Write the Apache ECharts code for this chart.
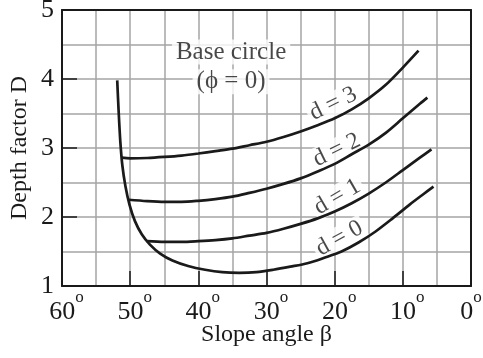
<!DOCTYPE html>
<html>
<head>
<meta charset="utf-8">
<script src="https://cdn.jsdelivr.net/npm/echarts@6/dist/echarts.min.js"></script>
<style>
html, body { margin: 0; padding: 0; background: #fff; }
#chart { width: 483px; height: 358px; }
</style>
</head>
<body>
<div id="chart"></div>
<script>
// curves: [slope angle (deg), depth factor D]
// d = 0 also carries the base-circle branch that drops from D = 4
const d0 = [[51.9, 3.98], [51.7, 3.55], [51.45, 3.1], [51.15, 2.75], [50.7, 2.45], [50.1, 2.18], [49.3, 1.94],
    [48.3, 1.75], [47.1, 1.6], [45.6, 1.47], [43.8, 1.37], [41.5, 1.29], [39, 1.235], [36.5, 1.2], [34, 1.19],
    [31.5, 1.2], [29, 1.235], [26.5, 1.28], [24, 1.33], [21.5, 1.41], [19, 1.5], [16.5, 1.63], [14, 1.79],
    [11.5, 1.98], [9, 2.18], [7, 2.33], [5.5, 2.44]]
const d1 = [[47.56, 1.65], [45, 1.64], [42.5, 1.64], [40, 1.65], [37.5, 1.665], [35, 1.69], [32.5, 1.73],
    [30, 1.77], [27.5, 1.83], [25, 1.9], [22.5, 1.98], [20, 2.08], [17.5, 2.2], [15, 2.34], [12.5, 2.5],
    [10, 2.68], [7.5, 2.86], [5.8, 2.98]]
const d2 = [[50.26, 2.25], [47.5, 2.23], [45, 2.22], [42.5, 2.22], [40, 2.235], [37.5, 2.26], [35, 2.295],
    [32.5, 2.35], [30, 2.41], [27.5, 2.48], [25, 2.56], [22.5, 2.66], [20, 2.77], [17.5, 2.91], [15, 3.05],
    [12.5, 3.22], [10, 3.43], [7.5, 3.64], [6.4, 3.73]]
const d3 = [[51.25, 2.86], [50, 2.85], [47.5, 2.855], [45, 2.87], [42.5, 2.89], [40, 2.92], [37.5, 2.955],
    [35, 2.99], [32.5, 3.04], [30, 3.09], [27.5, 3.16], [25, 3.24], [22.5, 3.33], [20, 3.43], [17.5, 3.56],
    [15, 3.72], [12.5, 3.915], [10, 4.165], [7.7, 4.41]]

const curveNames = ['d = 0', 'd = 1', 'd = 2', 'd = 3']
const curveData = [d0, d1, d2, d3]
// where each curve name is written, in data units, and its slant
const curveLabelAt = [[19.3, 1.69], [19.6, 2.29], [19.7, 2.97], [20.2, 3.64]]
const curveLabelTilt = [29, 30, 26, 26]

const noteText = ['Base circle', '(ϕ = 0)']
const noteAt = [[35.2, 4.39], [35.2, 3.96]]

const xTicks = [60, 50, 40, 30, 20, 10, 0]
const yTicks = [1, 2, 3, 4, 5]

const serif = 'Liberation Serif'
const ink = '#1a1a1a'
const gridGray = '#a5a5a5'
const clear = 'rgba(0,0,0,0)'

let chart = echarts.init(document.getElementById('chart'))

let series = curveData.map((d, i) => ({
    name: curveNames[i],
    type: 'line',
    data: d,
    smooth: 0.3,
    showSymbol: false,
    silent: true,
    lineStyle: { color: ink, width: 2.7 },
    z: 5
}))

// curve names, written on a white patch like the printed figure
series.push({
    type: 'scatter',
    symbolSize: 1,
    itemStyle: { color: clear },
    silent: true,
    z: 4,
    data: curveLabelAt.map((p, i) => ({
        value: p,
        label: {
            show: true,
            position: 'inside',
            rotate: curveLabelTilt[i],
            formatter: curveNames[i],
            fontFamily: serif,
            fontSize: 24,
            color: ink,
            backgroundColor: '#fff',
            padding: [0, 3]
        }
    }))
})

series.push({
    type: 'scatter',
    symbolSize: 1,
    itemStyle: { color: clear },
    silent: true,
    z: 4,
    data: noteAt.map((p, i) => ({
        value: p,
        label: {
            show: true,
            position: 'inside',
            formatter: noteText[i],
            fontFamily: serif,
            fontSize: 25,
            color: ink,
            backgroundColor: '#fff',
            padding: [0, 4]
        }
    }))
})

// degree labels: number centred on the tick, the last one pulled in from the edge
const degLabel = v => {
    if (xTicks.indexOf(v) < 0) return ''
    return (v === 0 ? '{e|' : '{n|') + v + '}{s|o}'
}

chart.setOption({
    animation: false,
    grid: { left: 62, right: 12, top: 10, bottom: 72, outerBoundsMode: 'none' },
    xAxis: [{
        type: 'value',
        inverse: true,
        min: 0,
        max: 60,
        interval: 10,
        name: 'Slope angle β',
        nameLocation: 'middle',
        nameGap: 37,
        nameMoveOverlap: false,
        nameTextStyle: { fontFamily: serif, fontSize: 24, color: ink },
        axisLine: { show: true, onZero: false, lineStyle: { color: ink, width: 2 } },
        axisTick: { show: true, inside: true, length: 15, lineStyle: { color: ink, width: 1.5 } },
        minorTick: { show: false, splitNumber: 2 },
        splitLine: { show: true, lineStyle: { color: gridGray, width: 1.5 } },
        minorSplitLine: { show: true, lineStyle: { color: gridGray, width: 1.5 } },
        axisLabel: {
            margin: 3,
            showMinLabel: true,
            showMaxLabel: true,
            formatter: degLabel,
            rich: {
                n: { fontFamily: serif, fontSize: 26, color: ink, lineHeight: 36, verticalAlign: 'bottom', padding: [0, 0, 0, 9] },
                e: { fontFamily: serif, fontSize: 26, color: ink, lineHeight: 36, verticalAlign: 'bottom' },
                s: { fontFamily: serif, fontSize: 17, color: ink, lineHeight: 14, verticalAlign: 'top' }
            }
        }
    }, {
        type: 'value',
        position: 'top',
        inverse: true,
        min: 0,
        max: 60,
        axisLine: { show: true, onZero: false, lineStyle: { color: ink, width: 2 } },
        axisTick: { show: false },
        axisLabel: { show: false },
        splitLine: { show: false }
    }],
    yAxis: [{
        type: 'value',
        min: 1,
        max: 5,
        interval: 1,
        name: 'Depth factor D',
        nameLocation: 'middle',
        nameGap: 30,
        nameMoveOverlap: false,
        nameTextStyle: { fontFamily: serif, fontSize: 24, color: ink },
        axisLine: { show: true, onZero: false, lineStyle: { color: ink, width: 2 } },
        axisTick: { show: true, inside: true, length: 15, lineStyle: { color: ink, width: 1.5 } },
        minorTick: { show: false, splitNumber: 2 },
        splitLine: { show: true, lineStyle: { color: gridGray, width: 1.5 } },
        minorSplitLine: { show: true, lineStyle: { color: gridGray, width: 1.5 } },
        axisLabel: {
            margin: 8,
            fontFamily: serif,
            fontSize: 26,
            color: ink,
            showMinLabel: true,
            showMaxLabel: true,
            formatter: v => yTicks.indexOf(v) < 0 ? '' : String(v)
        }
    }, {
        type: 'value',
        position: 'right',
        min: 1,
        max: 5,
        axisLine: { show: true, onZero: false, lineStyle: { color: ink, width: 2 } },
        axisTick: { show: false },
        axisLabel: { show: false },
        splitLine: { show: false }
    }],
    series: series
})
</script>
</body>
</html>
